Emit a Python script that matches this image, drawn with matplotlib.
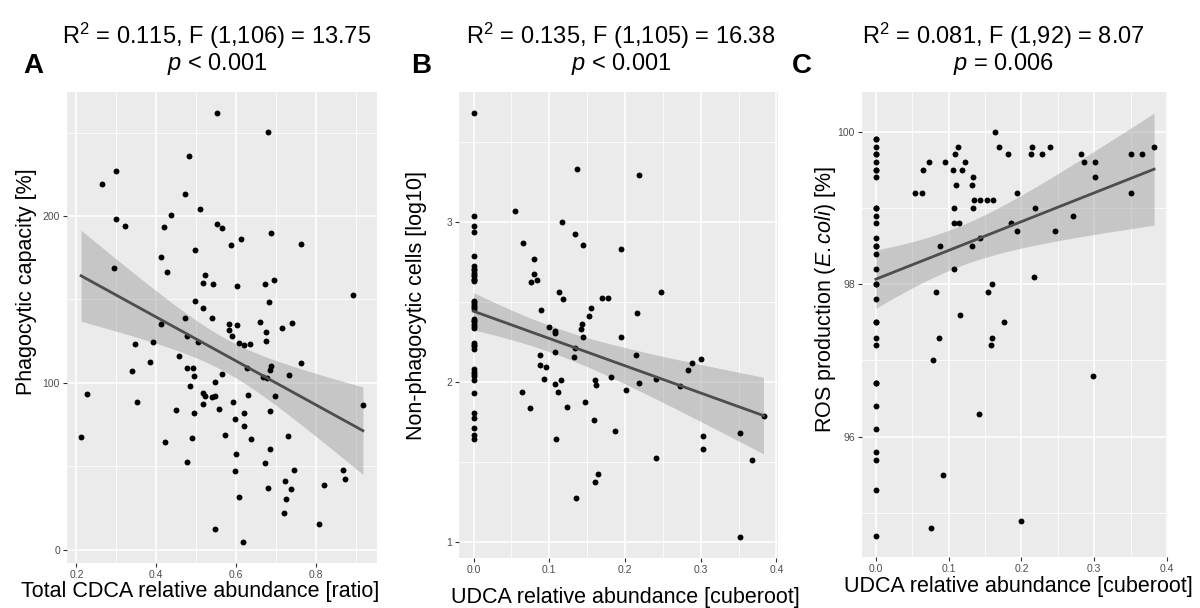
import matplotlib
matplotlib.use("Agg")
import matplotlib.pyplot as plt
import numpy as np
from matplotlib.ticker import MultipleLocator

plt.rcParams["font.family"] = ["Liberation Sans", "DejaVu Sans"]
plt.rcParams["mathtext.fontset"] = "custom"
plt.rcParams["mathtext.rm"] = "Liberation Sans"
plt.rcParams["mathtext.it"] = "Liberation Sans:italic"

# panel A: total CDCA relative abundance vs phagocytic capacity
a_x = [0.551, 0.68, 0.482, 0.3, 0.264, 0.473, 0.51, 0.438, 0.3, 0.3225, 0.419, 0.552,
       0.564, 0.687, 0.613, 0.588, 0.7625, 0.4975, 0.4125, 0.293, 0.427, 0.523, 0.516,
       0.5425, 0.603, 0.672, 0.695, 0.893, 0.4975, 0.6825, 0.516, 0.473, 0.54, 0.413,
       0.583, 0.6025, 0.66, 0.739, 0.715, 0.583, 0.675, 0.477, 0.59, 0.3925, 0.505,
       0.674, 0.346, 0.608, 0.62, 0.634, 0.458, 0.384, 0.763, 0.627, 0.476, 0.4925,
       0.687, 0.684, 0.338, 0.494, 0.565, 0.7325, 0.667, 0.677, 0.547, 0.485, 0.2275,
       0.516, 0.523, 0.54, 0.546, 0.63, 0.6975, 0.3525, 0.518, 0.591, 0.449, 0.5575,
       0.686, 0.494, 0.619, 0.5975, 0.619, 0.9175, 0.2117, 0.423, 0.489, 0.571, 0.637,
       0.729, 0.6, 0.685, 0.478, 0.6725, 0.597, 0.745, 0.8667, 0.8717, 0.7225, 0.819,
       0.68, 0.738, 0.6075, 0.726, 0.719, 0.808, 0.547, 0.6175]
a_y = [261.6, 250.2, 236, 227, 219, 213.4, 204.2, 200.4, 198, 194, 193.4, 195.4,
       192.8, 190, 186, 182.4, 183, 179.6, 175.4, 169, 166.6, 164.6, 160,
       159.2, 158, 159.2, 161.4, 152.6, 149.2, 148.4, 145, 138.6, 138.8, 135,
       135.2, 134.6, 136.2, 135.8, 133, 131.6, 130.6, 128, 128, 124.4, 124.8,
       125, 123.2, 124, 122.6, 123.4, 116.4, 112.6, 111.8, 109.2, 109.2, 109.2,
       110.4, 107.6, 107, 104.2, 105.6, 105, 103.6, 103.2, 100.6, 98.4, 93.6,
       94, 92, 91.4, 92, 93, 92, 88.6, 87.2, 88.6, 83.6, 84.2,
       83, 81.8, 82, 78.2, 74.4, 86.6, 67.8, 64.8, 66.8, 68.6, 66.6,
       68, 57.4, 60.4, 52.4, 51.8, 47, 47.6, 47.8, 42.4, 41, 38.8,
       37.2, 36.2, 31.6, 30.2, 21.8, 15.2, 12.6, 4.8]

# panel B: UDCA vs non-phagocytic cells
b_zero_y = [3.679, 3.035, 2.975, 2.9375, 2.7875, 2.725, 2.704, 2.683, 2.6625, 2.646,
            2.629, 2.508, 2.49, 2.475, 2.454, 2.396, 2.379, 2.362, 2.34, 2.246, 2.225,
            2.204, 2.083, 2.062, 2.04, 2.0125, 1.929, 1.804, 1.777, 1.715, 1.667, 1.646,
            2.70, 2.67, 2.64, 2.50, 2.47, 2.38, 2.35, 2.23, 2.05]
b_x = [0.0544, 0.1364, 0.2189, 0.1171, 0.1338, 0.1443, 0.0658, 0.1943, 0.0798, 0.0794,
       0.0842, 0.0763, 0.1132, 0.1184, 0.1702, 0.1772, 0.2478, 0.1553, 0.2162, 0.089,
       0.1531, 0.143, 0.1421, 0.0996, 0.1079, 0.1075, 0.1443, 0.1952, 0.1346, 0.1079,
       0.0877, 0.1333, 0.2145, 0.0877, 0.0952, 0.2882, 0.3009, 0.2838, 0.182, 0.0934,
       0.1149, 0.1605, 0.1618, 0.1079, 0.2189, 0.2404, 0.2724, 0.0636, 0.111, 0.2018,
       0.1474, 0.1237, 0.0746, 0.1592, 0.3829, 0.1873, 0.3522, 0.1092, 0.3026, 0.3035,
       0.2404, 0.368, 0.1645, 0.1605, 0.1351, 0.3522]
b_y = [3.067, 3.329, 3.29, 3.0, 2.923, 2.858, 2.867, 2.831, 2.769, 2.677,
       2.635, 2.623, 2.56, 2.521, 2.525, 2.525, 2.565, 2.4625, 2.431, 2.45,
       2.41, 2.36, 2.329, 2.344, 2.321, 2.308, 2.283, 2.283, 2.21, 2.185,
       2.169, 2.154, 2.167, 2.108, 2.096, 2.117, 2.142, 2.077, 2.033, 2.021,
       2.01, 2.0125, 1.983, 1.99, 1.994, 2.017, 1.977, 1.94, 1.935, 1.948,
       1.873, 1.842, 1.8375, 1.76, 1.79, 1.692, 1.679, 1.646, 1.6625, 1.579,
       1.523, 1.51, 1.425, 1.373, 1.273, 1.033]

# panel C: UDCA vs ROS production
c_zero_y = [99.9, 99.8, 99.7, 99.6, 99.5, 99.4, 99.0, 98.9, 98.8, 98.6, 98.5, 98.4,
            98.2, 98.0, 97.8, 97.5, 97.3, 97.2, 96.7, 96.4, 96.1, 95.8, 95.7, 95.3, 94.7,
            99.9, 99.7, 99.5, 99.0, 98.5, 98.0, 97.5, 96.7]
c_x = [0.1632, 0.1695, 0.215, 0.239, 0.1127, 0.1082, 0.1809, 0.2132, 0.2282, 0.2823,
       0.35, 0.366, 0.0736, 0.0945, 0.1227, 0.2859, 0.3009, 0.065, 0.1059, 0.1177,
       0.1336, 0.3009, 0.11, 0.1323, 0.0536, 0.0632, 0.1941, 0.35, 0.1355, 0.1436,
       0.1523, 0.1609, 0.1068, 0.1336, 0.2182, 0.2709, 0.1068, 0.1141, 0.1855, 0.1936,
       0.2464, 0.1436, 0.0882, 0.1323, 0.1068, 0.2177, 0.16, 0.0827, 0.1536, 0.1159,
       0.1755, 0.0873, 0.1595, 0.1586, 0.0791, 0.2991, 0.1418, 0.0927, 0.0764, 0.2,
       0.3824]
c_y = [100.0, 99.8, 99.8, 99.8, 99.8, 99.7, 99.7, 99.7, 99.7, 99.7,
       99.7, 99.7, 99.6, 99.6, 99.6, 99.6, 99.6, 99.5, 99.5, 99.5,
       99.4, 99.4, 99.3, 99.3, 99.2, 99.2, 99.2, 99.2, 99.1, 99.1,
       99.1, 99.1, 99.0, 99.0, 99.0, 98.9, 98.8, 98.8, 98.8, 98.7,
       98.7, 98.6, 98.5, 98.5, 98.2, 98.1, 98.0, 97.9, 97.9, 97.6,
       97.5, 97.3, 97.3, 97.2, 97.0, 96.8, 96.3, 95.5, 94.8, 94.9,
       99.8]

W, H = 1200, 608
fig = plt.figure(figsize=(W / 100, H / 100), dpi=100)


def px_axes(left, top, right, bottom):
    return fig.add_axes([left / W, 1 - bottom / H, (right - left) / W, (bottom - top) / H])


def lm_fit(x, y, t=1.98):
    x = np.asarray(x, float)
    y = np.asarray(y, float)
    n = len(x)
    b, a = np.polyfit(x, y, 1)
    resid = y - (a + b * x)
    s = np.sqrt(np.sum(resid ** 2) / (n - 2))
    xs = np.linspace(x.min(), x.max(), 80)
    se = s * np.sqrt(1 / n + (xs - x.mean()) ** 2 / np.sum((x - x.mean()) ** 2))
    fit = a + b * xs
    return xs, fit, fit - t * se, fit + t * se


def panel(ax, x, y, xmaj, ymaj):
    ax.set_facecolor("#EBEBEB")
    for sp in ax.spines.values():
        sp.set_visible(False)
    xs, fit, lo, hi = lm_fit(x, y)
    ax.fill_between(xs, lo, hi, color="#999999", alpha=0.45, lw=0, zorder=2)
    ax.scatter(x, y, s=18, color="black", lw=0, zorder=3)
    ax.plot(xs, fit, color="#4d4d4d", lw=2, zorder=4)
    # ggplot style 5% expansion
    x0, x1 = min(x), max(x)
    y0, y1 = min(min(y), lo.min()), max(max(y), hi.max())
    ax.set_xlim(x0 - 0.05 * (x1 - x0), x1 + 0.05 * (x1 - x0))
    ax.set_ylim(y0 - 0.05 * (y1 - y0), y1 + 0.05 * (y1 - y0))
    ax.xaxis.set_major_locator(MultipleLocator(xmaj))
    ax.xaxis.set_minor_locator(MultipleLocator(xmaj / 2))
    ax.yaxis.set_major_locator(MultipleLocator(ymaj))
    ax.yaxis.set_minor_locator(MultipleLocator(ymaj / 2))
    ax.grid(which="major", color="white", lw=1.1, zorder=0)
    ax.grid(which="minor", color="white", lw=0.55, zorder=0)
    ax.set_axisbelow(True)
    ax.tick_params(which="major", length=3, width=0.8, color="#333333",
                   labelcolor="#4D4D4D", labelsize=7.5, pad=2)
    ax.tick_params(which="minor", length=0)


ax_a = px_axes(67, 92, 377, 563)
panel(ax_a, a_x, a_y, 0.2, 100)

bx = [0.0] * len(b_zero_y) + b_x
by = b_zero_y + b_y
ax_b = px_axes(459, 92, 778, 558)
panel(ax_b, bx, by, 0.1, 1)

cx = [0.0] * len(c_zero_y) + c_x
cy = c_zero_y + c_y
ax_c = px_axes(862, 92, 1168, 557)
panel(ax_c, cx, cy, 0.1, 2)

# axis titles (placed by pixel, as in the composed figure)
xlabels = [(200, 597, "Total CDCA relative abundance [ratio]"),
           (625, 603, "UDCA relative abundance [cuberoot]"),
           (1018, 592, "UDCA relative abundance [cuberoot]")]
for xp, yp, txt in xlabels:
    fig.text(xp / W, 1 - yp / H, txt, ha="center", va="baseline", fontsize=15.5)

ylabels = [(27, 282, "Phagocytic capacity [%]"),
           (417, 306, "Non-phagocytic cells [log10]"),
           (826, 300, r"ROS production ($\mathit{E.coli}$) [%]")]
for xp, yp, txt in ylabels:
    fig.text(xp / W, 1 - yp / H, txt, ha="center", va="center", rotation=90,
             fontsize=15.5)

titles = [
    (217, r"R$^{2}$ = 0.115, F (1,106) = 13.75", r"$\mathit{p}$ < 0.001", 33, "A"),
    (621, r"R$^{2}$ = 0.135, F (1,105) = 16.38", r"$\mathit{p}$ < 0.001", 421, "B"),
    (1003, r"R$^{2}$ = 0.081, F (1,92) = 8.07", r"$\mathit{p}$ = 0.006", 802, "C"),
]
for cxp, l1, l2, lx, letter in titles:
    fig.text(cxp / W, 1 - 36 / H, l1, ha="center", va="center", fontsize=17)
    fig.text(cxp / W, 1 - 64 / H, l2, ha="center", va="center", fontsize=17)
    fig.text(lx / W, 1 - 66 / H, letter, ha="center", va="center", fontsize=20,
             fontweight="bold")

fig.savefig("out.png", dpi=100)
